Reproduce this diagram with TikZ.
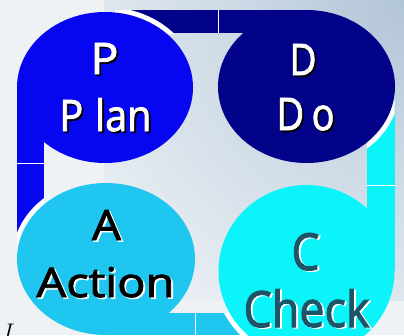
\documentclass[tikz,border=0pt]{standalone}
\usepackage{fontspec}
\newfontfamily\pdcafont[FakeBold=2]{Open Sans}
\definecolor{pblue}{HTML}{0606F0}
\definecolor{dnavy}{HTML}{03038A}
\definecolor{ccyan}{HTML}{0AF4FA}
\definecolor{alblue}{HTML}{1FC6F0}
\definecolor{checkteal}{HTML}{1E5468}
\definecolor{bgtr}{HTML}{B2C5D8}
\definecolor{bgbase}{HTML}{EEF2F5}
\pgfdeclareradialshading{trshade}{\pgfpoint{0bp}{0bp}}{color(0bp)=(bgtr); color(14bp)=(bgtr!55!bgbase); color(34bp)=(bgbase); color(50bp)=(bgbase)}
\newcommand\fitbox[3]{\resizebox{#1}{#2}{\pdcafont #3}}
\tikzset{
  lbl/.style={anchor=base, inner sep=0pt, outer sep=0pt},
  ring/.style={draw=white, line width=10pt},
  sep/.style={draw=white, line width=1pt}
}
\begin{document}
\begin{tikzpicture}[x=1pt, y=-1pt]
\useasboundingbox (0,0) rectangle (404,335);
% background
\begin{scope}
\clip (0,0) rectangle (404,335);
\fill[bgbase] (0,0) rectangle (404,335);
\shade[shading=trshade] (104,-300) rectangle (704,300);
\end{scope}
% bars
\fill[dnavy] (115,10) rectangle (218,33);
\fill[pblue] (17,163) rectangle (44,255);
\fill[ccyan] (367,90) rectangle (394.5,185);
\fill[alblue] (195,313) rectangle (290,335);
% rings over bars
\begin{scope}
\clip (115,10) rectangle (218,33);
\draw[ring] (105,87.5) ellipse [x radius=88pt, y radius=75.5pt];
\end{scope}
\begin{scope}
\clip (17,163) rectangle (44,255);
\draw[ring] (106,259) ellipse [x radius=89pt, y radius=76pt];
\end{scope}
\begin{scope}
\clip (367,90) rectangle (394.5,185);
\draw[ring] (306.5,86.5) ellipse [x radius=88.5pt, y radius=76.5pt];
\end{scope}
\begin{scope}
\clip (195,313) rectangle (290,335);
\draw[ring] (306.5,271) ellipse [x radius=88pt, y radius=86pt];
\end{scope}
% shapes
\fill[pblue] (105,87.5) ellipse [x radius=88pt, y radius=75.5pt];
\fill[pblue] (17,87.5) rectangle (44,163);
\fill[dnavy] (306.5,86.5) ellipse [x radius=88.5pt, y radius=76.5pt];
\fill[dnavy] (218,10) rectangle (306.5,33);
\fill[ccyan] (306.5,271) ellipse [x radius=88pt, y radius=86pt];
\fill[ccyan] (367,185) rectangle (394.5,271);
\fill[alblue] (106,259) ellipse [x radius=89pt, y radius=76pt];
\fill[alblue] (106,313) rectangle (195,335);
% separators
\draw[sep] (17,163) -- (44,163);
\draw[sep] (218,10) -- (218,33);
\draw[sep] (367,185) -- (394.5,185);
\draw[sep] (195,313) -- (195,335);
% texts P
\node[lbl, text=black] (pks) at (106.3,75.8) {\fitbox{28pt}{31pt}{P}};
\node[lbl, text=white] (pk) at (104.5,74) {\fitbox{28pt}{31pt}{P}};
\node[lbl, text=black] (pls) at (107.3,132.8) {\fitbox{92pt}{33pt}{P\kern3pt lan}};
\node[lbl, text=white] (pl) at (105.5,131) {\fitbox{92pt}{33pt}{P\kern3pt lan}};
% texts D
\node[lbl, text=black] (dks) at (304.8,76.8) {\fitbox{27pt}{31pt}{D}};
\node[lbl, text=white] (dk) at (303,75) {\fitbox{27pt}{31pt}{D}};
\node[lbl, text=black] (dls) at (307.3,131.8) {\fitbox{58pt}{32pt}{D\kern2pt o}};
\node[lbl, text=white] (dl) at (305.5,130) {\fitbox{58pt}{32pt}{D\kern2pt o}};
% texts A
\node[lbl, text=white] (aks) at (108.3,241.5) {\fitbox{29pt}{30pt}{A}};
\node[lbl, text=black] (ak) at (106.5,240) {\fitbox{29pt}{30pt}{A}};
\node[lbl, text=white] (als) at (107.3,298.5) {\fitbox{138pt}{30pt}{Action}};
\node[lbl, text=black] (al) at (105.5,297) {\fitbox{138pt}{30pt}{Action}};
% texts C
\node[lbl, text=white] (cks) at (307.5,271) {\fitbox{28pt}{37pt}{C}};
\node[lbl, text=checkteal] (ck) at (305.5,270) {\fitbox{28pt}{37pt}{C}};
\node[lbl, text=white] (cls) at (308.5,328) {\fitbox{126pt}{38pt}{Check}};
\node[lbl, text=checkteal] (cl) at (306.5,327) {\fitbox{126pt}{38pt}{Check}};
% cut-off letter
\node[lbl, text=black, font=\fontsize{24}{24}\selectfont\itshape] (ii) at (7,340) {I};
\end{tikzpicture}
\end{document}
